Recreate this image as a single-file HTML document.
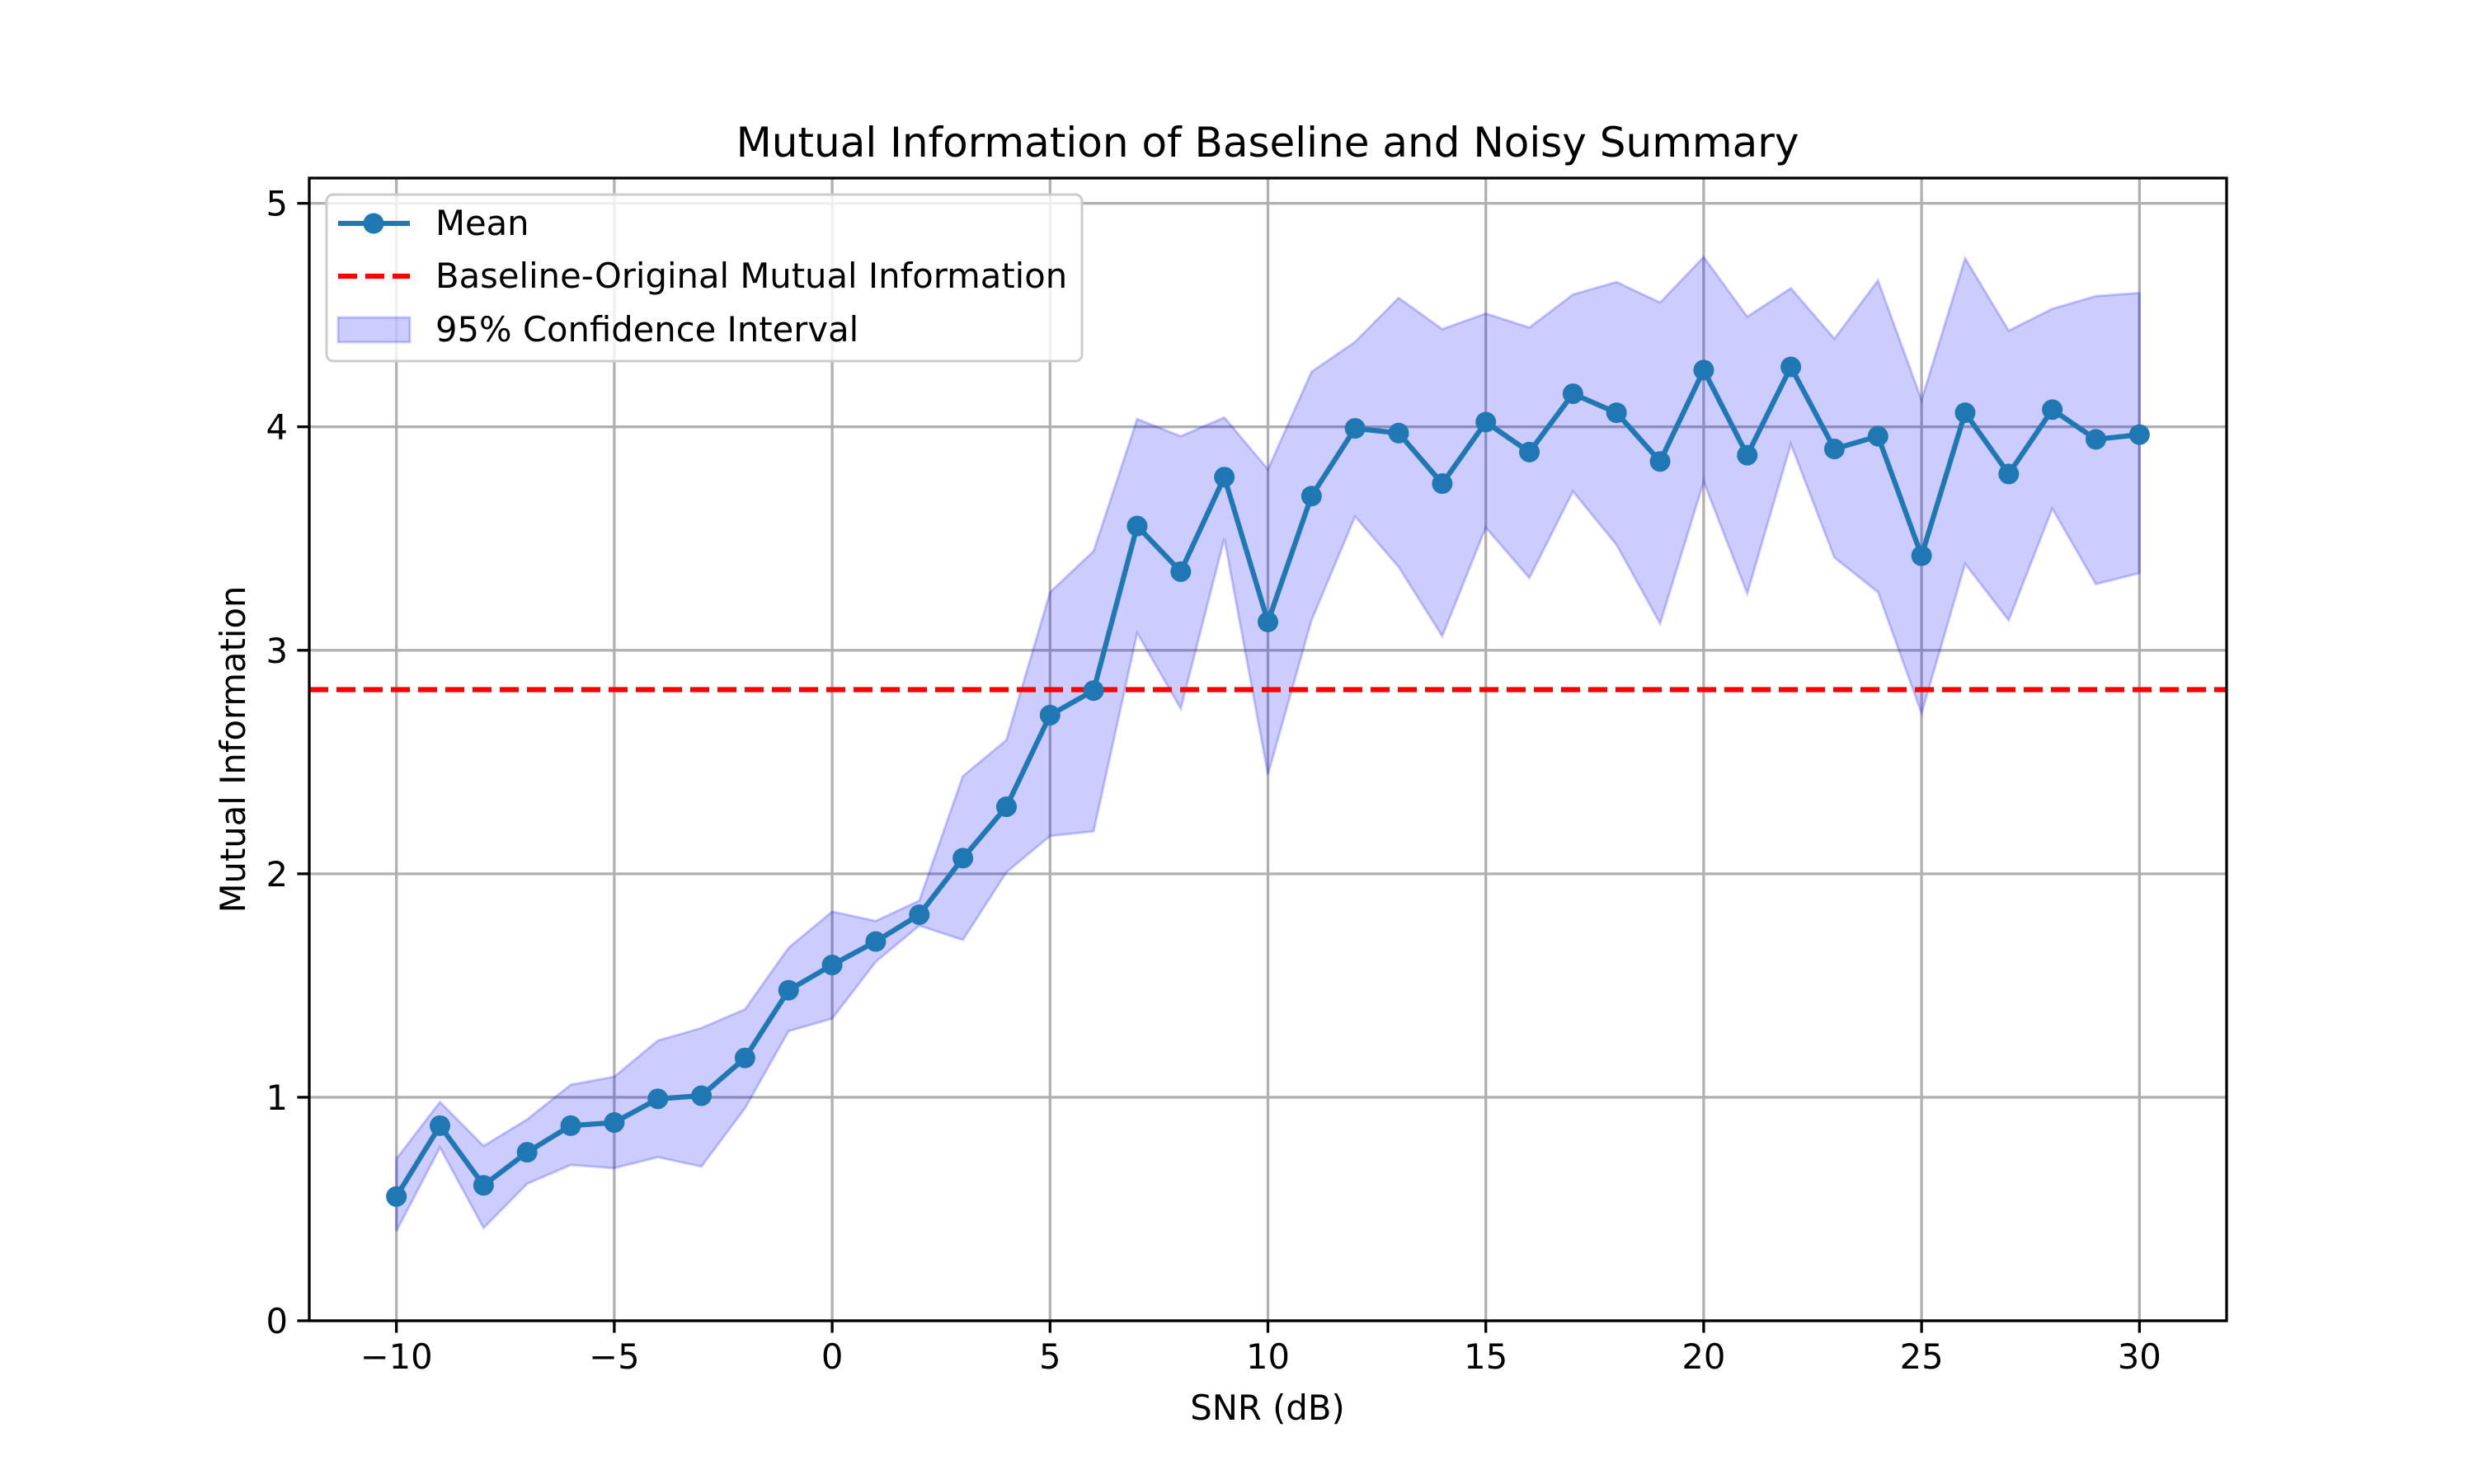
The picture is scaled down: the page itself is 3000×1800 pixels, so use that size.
<!DOCTYPE html>
<html><head><meta charset="utf-8"><style>
html,body{margin:0;padding:0;background:#fff;}
svg{display:block;font-family:"DejaVu Sans","Liberation Sans",sans-serif;}
</style></head><body>
<svg id="chart" width="3000" height="1800" viewBox="0 0 3000 1800" xmlns="http://www.w3.org/2000/svg">
<rect width="3000" height="1800" fill="#fff"/>
<g id="grid"></g>
<g id="band"></g>
<g id="baseline"></g>
<g id="series"></g>
<g id="axes"></g>
<text x="1537" y="190" font-size="50" text-anchor="middle">Mutual Information of Baseline and Noisy Summary</text>
<text x="1537" y="1722" font-size="41.7" text-anchor="middle">SNR (dB)</text>
<text x="0" y="0" font-size="41.7" text-anchor="middle" transform="translate(297,909) rotate(-90)">Mutual Information</text>
<g transform="translate(-6,-5)">
<rect x="402" y="241" width="916" height="202" rx="8" fill="#fff" fill-opacity="0.8" stroke="#ccc" stroke-width="3"/>
<g>
<line x1="416" y1="276" x2="503" y2="276" stroke="#1f77b4" stroke-width="6.25"/>
<circle cx="459" cy="276" r="12.5" fill="#1f77b4"/>
<text x="534" y="290" font-size="41.7">Mean</text></g>
<g>
<line x1="416" y1="340" x2="503" y2="340" stroke="#ff0000" stroke-width="6.25" stroke-dasharray="23,10"/>
<text x="534" y="354" font-size="41.7">Baseline-Original Mutual Information</text></g>
<g>
<rect x="416" y="390" width="87" height="30" fill="#0000ff" fill-opacity="0.2" stroke="#0000ff" stroke-opacity="0.2" stroke-width="3"/>
<text x="534" y="419" font-size="41.7">95% Confidence Interval</text></g>
</g>
</svg>
<script>
const snr = [-10,-9,-8,-7,-6,-5,-4,-3,-2,-1,0,1,2,3,4,5,6,7,8,9,10,11,12,13,14,15,16,17,18,19,20,21,22,23,24,25,26,27,28,29,30];
const meanMI = [0.556,0.873,0.606,0.754,0.873,0.887,0.993,1.007,1.176,1.479,1.592,1.697,1.817,2.07,2.30,2.71,2.82,3.556,3.352,3.775,3.127,3.69,3.993,3.972,3.746,4.021,3.887,4.148,4.063,3.845,4.254,3.873,4.268,3.901,3.958,3.423,4.063,3.789,4.077,3.944,3.965];
const upperCI = [0.725,0.979,0.782,0.901,1.056,1.092,1.254,1.31,1.394,1.669,1.831,1.789,1.88,2.437,2.599,3.26,3.444,4.035,3.958,4.042,3.81,4.246,4.38,4.577,4.437,4.507,4.444,4.592,4.648,4.556,4.76,4.493,4.62,4.394,4.655,4.12,4.754,4.43,4.528,4.585,4.599];
const lowerCI = [0.401,0.775,0.415,0.613,0.697,0.683,0.732,0.69,0.951,1.296,1.352,1.606,1.768,1.704,2.007,2.169,2.19,3.077,2.739,3.5,2.444,3.134,3.599,3.373,3.063,3.549,3.324,3.711,3.472,3.12,3.754,3.254,3.923,3.415,3.26,2.718,3.387,3.134,3.634,3.296,3.345];
const baselineMI = 2.824;
const xTicks = [-10,-5,0,5,10,15,20,25,30];
const yTicks = [0,1,2,3,4,5];
const xTickLabels = ["\u221210","\u22125","0","5","10","15","20","25","30"];
const yTickLabels = ["0","1","2","3","4","5"];

const L=375,R=2700,T=216,B=1602;
const xMin=-12,xMax=32,yMin=0,yMax=5.113;
const sx=v=>L+(v-xMin)/(xMax-xMin)*(R-L);
const sy=v=>B-(v-yMin)/(yMax-yMin)*(B-T);
const NS="http://www.w3.org/2000/svg";
function mk(tag,attrs,parent){const e=document.createElementNS(NS,tag);for(const k in attrs)e.setAttribute(k,attrs[k]);parent.appendChild(e);return e;}

const grid=document.getElementById('grid');
xTicks.forEach(t=>{const l=mk('line',{x1:sx(t),x2:sx(t),y1:T,y2:B,stroke:'#b0b0b0','stroke-width':3.3},grid);

});
yTicks.forEach(t=>{const l=mk('line',{x1:L,x2:R,y1:sy(t),y2:sy(t),stroke:'#b0b0b0','stroke-width':3.3},grid);

});

const band=document.getElementById('band');
let pts=snr.map((x,i)=>sx(x)+','+sy(upperCI[i]));
for(let i=snr.length-1;i>=0;i--)pts.push(sx(snr[i])+','+sy(lowerCI[i]));
const poly=mk('polygon',{points:pts.join(' '),fill:'#0000ff','fill-opacity':0.2,stroke:'#0000ff','stroke-opacity':0.2,'stroke-width':3},band);



const bl=mk('line',{x1:L,x2:R,y1:sy(baselineMI),y2:sy(baselineMI),stroke:'#ff0000','stroke-width':6.25,'stroke-dasharray':'23,10'},document.getElementById('baseline'));



const ser=document.getElementById('series');
const pl=mk('polyline',{points:snr.map((x,i)=>sx(x)+','+sy(meanMI[i])).join(' '),fill:'none',stroke:'#1f77b4','stroke-width':6.25,'stroke-linejoin':'round'},ser);


snr.forEach((x,i)=>{const c=mk('circle',{cx:sx(x),cy:sy(meanMI[i]),r:12.5,fill:'#1f77b4'},ser);

});

const ax=document.getElementById('axes');
const fr=mk('rect',{x:L,y:T,width:R-L,height:B-T,fill:'none',stroke:'#000','stroke-width':3.3},ax);


xTicks.forEach((t,i)=>{mk('line',{x1:sx(t),x2:sx(t),y1:B,y2:B+14.6,stroke:'#000','stroke-width':3.3},ax);
const tx=mk('text',{x:sx(t),y:B+58,'font-size':41.7,'text-anchor':'middle'},ax);tx.textContent=xTickLabels[i];

});
yTicks.forEach((t,i)=>{mk('line',{x1:L-14.6,x2:L,y1:sy(t),y2:sy(t),stroke:'#000','stroke-width':3.3},ax);
const tx=mk('text',{x:L-26,y:sy(t)+15,'font-size':41.7,'text-anchor':'end'},ax);tx.textContent=yTickLabels[i];

});
</script>
</body></html>
